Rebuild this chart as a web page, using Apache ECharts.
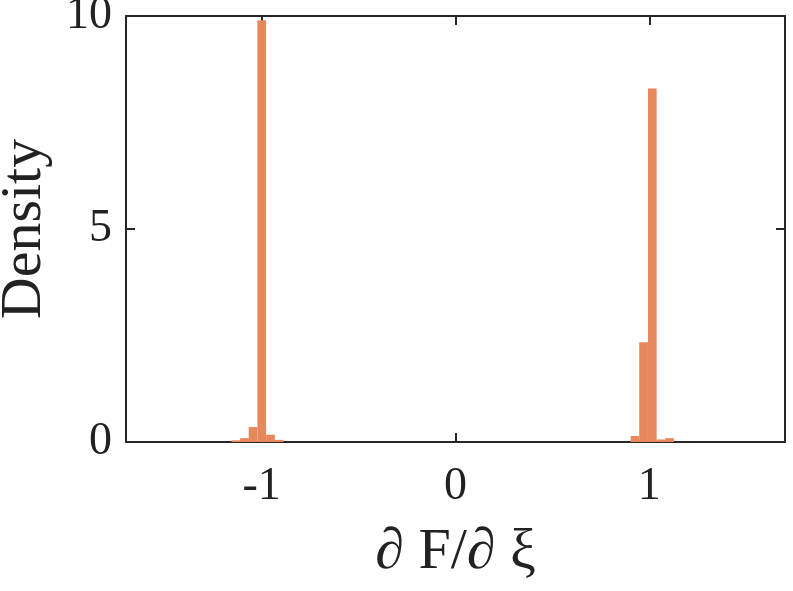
<!DOCTYPE html>
<html>
<head>
<meta charset="utf-8">
<script src="https://cdn.jsdelivr.net/npm/echarts@6/dist/echarts.min.js"></script>
<style>html,body{margin:0;padding:0;background:#fff}#c{width:793px;height:591px}</style>
</head>
<body>
<div id="c"></div>
<script>
// Histogram data: left bin edges, bin width, density
const binWidth = 0.0448;
const binLeft = [-1.156, -1.111, -1.067, -1.022, -0.977, -0.933,
                 0.904, 0.948, 0.993, 1.038, 1.082];
const density = [0.04, 0.09, 0.35, 9.90, 0.17, 0.05,
                 0.14, 2.34, 8.30, 0.06, 0.09];
const xTicks = [-1, 0, 1];
const yTicks = [0, 5, 10];

const data = binLeft.map((b, i) => [b, b + binWidth, density[i]]);
const axisColor = '#262626';
const font = 'Liberation Serif';

const chart = echarts.init(document.getElementById('c'), null, {renderer: 'canvas'});
chart.setOption({
  animation: false,
  backgroundColor: '#fff',
  grid: {left: 126, right: 8, top: 16, bottom: 149, containLabel: false, outerBoundsMode: 'none'},
  xAxis: [{
    type: 'value', min: -1.7, max: 1.7, interval: 1,
    position: 'bottom',
    axisLine: {show: true, onZero: false, lineStyle: {color: axisColor, width: 2}},
    axisTick: {show: true, inside: true, length: 9, lineStyle: {color: axisColor, width: 2},
      customValues: xTicks},
    axisLabel: {show: true, color: '#222', fontFamily: font, fontSize: 46, margin: 22,
      customValues: xTicks, formatter: v => String(v)},
    splitLine: {show: false},
    name: '\u2202 F/\u2202 \u03BE', nameLocation: 'middle', nameGap: 82,
    nameTextStyle: {color: '#222', fontFamily: font, fontSize: 58}
  }, {
    type: 'value', min: -1.7, max: 1.7, position: 'top',
    axisLine: {show: true, onZero: false, lineStyle: {color: axisColor, width: 2}},
    axisTick: {show: true, inside: true, length: 9, lineStyle: {color: axisColor, width: 2},
      customValues: xTicks},
    axisLabel: {show: false}, splitLine: {show: false}
  }],
  yAxis: [{
    type: 'value', min: 0, max: 10, interval: 5,
    position: 'left',
    axisLine: {show: true, onZero: false, lineStyle: {color: axisColor, width: 2}},
    axisTick: {show: true, inside: true, length: 9, lineStyle: {color: axisColor, width: 2},
      customValues: yTicks},
    axisLabel: {show: true, color: '#222', fontFamily: font, fontSize: 46, margin: 14,
      customValues: yTicks},
    splitLine: {show: false},
    name: 'Density', nameLocation: 'middle', nameGap: 72, nameRotate: 90,
    nameTextStyle: {color: '#222', fontFamily: font, fontSize: 58}
  }, {
    type: 'value', min: 0, max: 10, position: 'right',
    axisLine: {show: true, onZero: false, lineStyle: {color: axisColor, width: 2}},
    axisTick: {show: true, inside: true, length: 9, lineStyle: {color: axisColor, width: 2},
      customValues: yTicks},
    axisLabel: {show: false}, splitLine: {show: false}
  }],
  series: [{
    type: 'custom',
    xAxisIndex: 0, yAxisIndex: 0,
    data: data,
    encode: {x: [0, 1], y: 2},
    renderItem: function (params, api) {
      const p0 = api.coord([api.value(0), 0]);
      const p1 = api.coord([api.value(1), api.value(2)]);
      return {
        type: 'rect',
        shape: {x: p0[0], y: p1[1], width: p1[0] - p0[0], height: p0[1] - p1[1]},
        style: {fill: '#E6885C'}
      };
    },
    z: 1
  }]
});
</script>
</body>
</html>
